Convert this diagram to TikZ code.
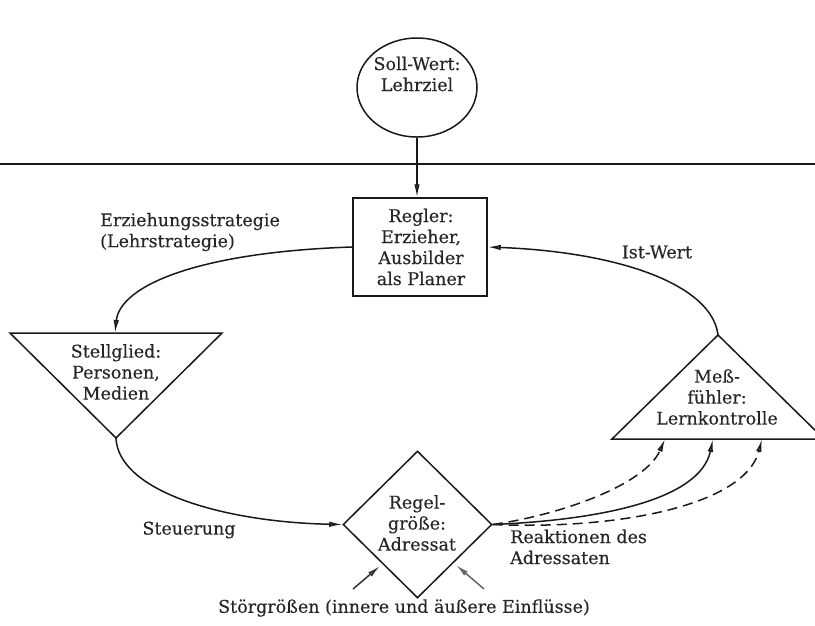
\documentclass[tikz,border=0pt]{standalone}
\usepackage{fontspec}
\setmainfont{DejaVu Serif}[FakeBold=0.3]
\usetikzlibrary{shapes.geometric,arrows.meta}
\begin{document}
\begin{tikzpicture}[x=1pt,y=-1pt,
  lbl/.style={font=\fontsize{17.5}{21}\selectfont, text=black!85, inner sep=0pt},
  line/.style={line width=1.5pt, draw=black!90},
  arrowend/.style={-{Latex[length=13pt,width=5.5pt,fill=black!60]}},
  dashline/.style={line, dash pattern=on 10pt off 6pt}]
\useasboundingbox (0,0) rectangle (815,625);

% separating rule between set point and control loop
\draw[line] (0,164) -- (815,164);

% set point
\node[ellipse, line, minimum width=120pt, minimum height=99pt, inner sep=0pt] (soll) at (417,87.5) {};
\node[lbl, align=center] (sollT) at (417,74) {Soll-Wert:\\Lehrziel};

% controller
\node[rectangle, line, minimum width=134pt, minimum height=98pt, inner sep=0pt] (regler) at (420,247) {};
\node[lbl, align=center] (reglerT) at (421,247) {Regler:\\Erzieher,\\Ausbilder\\als Planer};

% actuator (inverted triangle)
\coordinate (sgL) at (10,333);
\coordinate (sgR) at (222,333);
\coordinate (sgB) at (116,438);
\coordinate (sgIn) at (115,333);
\draw[line, line join=miter] (sgL) -- (sgR) -- (sgB) -- cycle;
\node[lbl, align=center] (sgT) at (116,372) {Stellglied:\\Personen,\\Medien};

% measuring element (triangle)
\coordinate (mfA) at (718,335);
\coordinate (mfL) at (612,439);
\coordinate (mfR) at (824,439);
\coordinate (mfIn1) at (665,439);
\coordinate (mfIn2) at (713,439);
\coordinate (mfIn3) at (762,439);
\draw[line, line join=miter] (mfL) -- (mfA) -- (mfR) -- cycle;
\node[lbl, align=center] (mfT) at (717,397) {Meß-\\fühler:\\Lernkontrolle};

% controlled variable (diamond)
\node[diamond, line, minimum width=149pt, minimum height=147pt, inner sep=0pt] (rg) at (417.5,524.5) {};
\node[lbl, align=center] (rgT) at (417,523) {Regel-\\größe:\\Adressat};

% disturbances
\coordinate (d1) at (353,589);
\coordinate (d1t) at (380,566);
\coordinate (d2) at (484,589);
\coordinate (d2t) at (456,565);
\draw[line, arrowend, draw=black!80] (d1) -- (d1t);
\draw[line, arrowend, draw=black!60] (d2) -- (d2t);

% loop connectors
\draw[line, arrowend] (soll.south) -- (soll.south |- regler.north);
\draw[line, arrowend] (regler.west) .. controls (200,252) and (120,285) .. (sgIn);
\draw[line, arrowend] (sgB) .. controls (118,490) and (220,522) .. (rg.west);
\draw[line, arrowend] (mfA) .. controls (712,285) and (620,252) .. (regler.east);

% reactions of the addressee
\draw[dashline, arrowend] (rg.east) .. controls (560,515) and (645,485) .. (mfIn1);
\draw[line, arrowend] (rg.east) .. controls (600,520) and (700,500) .. (mfIn2);
\draw[dashline, arrowend] (rg.east) .. controls (620,530) and (745,505) .. (mfIn3);

% labels
\node[lbl, align=left, anchor=west] (strat) at (100,232) {Erziehungsstrategie\\(Lehrstrategie)};
\node[lbl] (ist) at (657,252) {Ist-Wert};
\node[lbl] (steu) at (189,530) {Steuerung};
\node[lbl, align=left, anchor=west] (reak) at (510,547) {Reaktionen des\\Adressaten};
\node[lbl] (stoer) at (404,608) {Störgrößen (innere und äußere Einflüsse)};
\end{tikzpicture}
\end{document}
